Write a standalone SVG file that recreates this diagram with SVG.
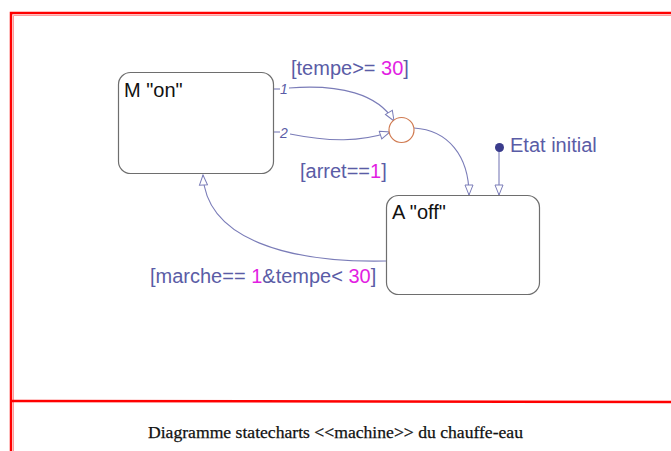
<svg xmlns="http://www.w3.org/2000/svg" width="671" height="451" viewBox="0 0 671 451">
  <style>
    .frame { fill: none; stroke: #ff0000; stroke-width: 2.5; }
    .frame-soft { fill: none; stroke: #ff9a9a; stroke-width: 1; }
    .state { fill: #ffffff; stroke: #6e6e6e; stroke-width: 1.2; }
    .name { font-family: "Liberation Sans", Arial, sans-serif; font-size: 20px; fill: #111111; }
    .guard { font-family: "Liberation Sans", Arial, sans-serif; font-size: 20px; fill: #5a5ca6; }
    .num { fill: #e21ee2; }
    .prio { font-family: "Liberation Sans", Arial, sans-serif; font-size: 14px; font-style: italic; fill: #5a5ca6; }
    .edge { fill: none; stroke: #7a7cb8; stroke-width: 1.1; }
    .junction { fill: #ffffff; stroke: #d07a50; stroke-width: 1.2; }
    .title { font-family: "Liberation Serif", "Times New Roman", serif; font-size: 17px; fill: #111111; stroke: #111111; stroke-width: 0.25; }
  </style>
  <defs>
    <marker id="open-arrow" viewBox="0 0 12 10" refX="11" refY="5" markerWidth="12" markerHeight="10" markerUnits="userSpaceOnUse" orient="auto">
      <path d="M1,1 L11,5 L1,9 Z" fill="#ffffff" stroke="#7a7cb8" stroke-width="1"/>
    </marker>
  </defs>

  <rect width="671" height="451" fill="#ffffff"/>

  <!-- page frame and caption separator -->
  <g id="frame">
    <path class="frame" d="M11,451 V13 H672"/>
    <path class="frame-soft" d="M13.5,451 V15.5 H672"/>
    <path class="frame" d="M11,401 L672,402"/>
  </g>

  <!-- transitions -->
  <g id="connectors">
    <!-- M -> junction, priority 1 -->
    <path class="edge" d="M273,89 H280"/>
    <path class="edge" d="M289,88 C340,84 378,94 394,121" marker-end="url(#open-arrow)"/>
    <!-- M -> junction, priority 2 -->
    <path class="edge" d="M273,132 H280"/>
    <path class="edge" d="M290,134 C330,142 360,142 390,132" marker-end="url(#open-arrow)"/>
    <!-- junction -> A -->
    <path class="edge" d="M414,128 C448,130 469,156 469,195" marker-end="url(#open-arrow)"/>
    <!-- default transition -->
    <path class="edge" d="M499,148 V195" marker-end="url(#open-arrow)"/>
    <!-- A -> M -->
    <path class="edge" d="M386,261 C290,263 206,240 203,175" marker-end="url(#open-arrow)"/>

    <text class="prio" x="280" y="94">1</text>
    <text class="prio" x="280" y="138">2</text>

    <text class="guard" x="291" y="75">[tempe&gt;= <tspan class="num">30</tspan>]</text>
    <text class="guard" x="300" y="178">[arret==<tspan class="num">1</tspan>]</text>
    <text class="guard" x="150" y="283">[marche== <tspan class="num">1</tspan>&amp;tempe&lt; <tspan class="num">30</tspan>]</text>
  </g>

  <g id="state-on">
    <rect class="state" x="118.5" y="72.5" width="155" height="101" rx="12"/>
    <text class="name" x="124" y="97">M "on"</text>
  </g>

  <g id="state-off">
    <rect class="state" x="386.5" y="195.5" width="153" height="99" rx="12"/>
    <text class="name" x="392" y="219">A "off"</text>
  </g>

  <g id="junction">
    <circle class="junction" cx="401.5" cy="130" r="12.5"/>
  </g>

  <g id="initial">
    <circle cx="499.5" cy="147.5" r="4.5" fill="#3a3c8c"/>
    <text class="guard" x="510" y="152">Etat initial</text>
  </g>

  <g id="caption">
    <text class="title" x="148" y="438" textLength="375" lengthAdjust="spacingAndGlyphs">Diagramme statecharts &lt;&lt;machine&gt;&gt; du chauffe-eau</text>
  </g>
</svg>
